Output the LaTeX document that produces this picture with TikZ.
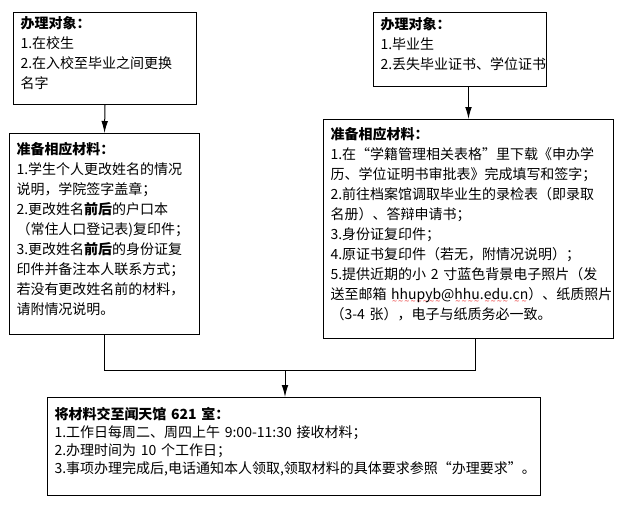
\documentclass[tikz,border=0pt]{standalone}
\usepackage{fontspec}
\setmainfont{Noto Sans CJK SC}
\newfontfamily\wavefont{DejaVu Sans}
\usepackage{xcolor}
\usepackage{tikz}
\usetikzlibrary{arrows.meta,positioning,calc}
\definecolor{flowblack}{RGB}{0,0,0}
\definecolor{spellred}{RGB}{230,30,30}
\newcommand{\spellwave}[1]{\setbox0=\hbox{#1}\leavevmode\rlap{\raisebox{-3.4pt}[0pt][0pt]{\textcolor{spellred}{\hbox to \wd0{\wavefont\fontsize{5}{5}\selectfont\xleaders\hbox{∼}\hfill}}}}\box0}
\newcommand{\boxpad}{\endgraf\vspace{7.5pt}}

\begin{document}
\begin{tikzpicture}[
x=0.75pt,y=-0.75pt,
box/.style={
draw=flowblack,
line width=0.75pt,
fill=white,
anchor=north west,
inner xsep=5.25pt,
inner ysep=0pt,
align=left,
font=\fontsize{10.5}{15}\selectfont,
execute at end node=\boxpad
},
arrow/.style={
-{Latex[length=9pt,width=5pt]},
line width=0.75pt,
draw=flowblack
},
line/.style={
line width=0.75pt,
draw=flowblack
}
]
\useasboundingbox (0,0) rectangle (626,507);

\node[box, text width=126.75pt, minimum height=69pt] (obj1) at (13,12)
{\textbf{办理对象：}\\
1.在校生\\
2.在入校至毕业之间更换\\
名字};

\node[box, text width=119.25pt, minimum height=55.5pt] (obj2) at (373,12)
{\textbf{办理对象：}\\
1.毕业生\\
2.丢失毕业证书、学位证书};

\node[box, text width=132pt, minimum height=150.75pt] (mat1) at (9,133)
{\textbf{准备相应材料：}\\
1.学生个人更改姓名的情况\\
说明，学院签字盖章；\\
2.更改姓名\textbf{前后}的户口本\\
（常住人口登记表)复印件；\\
3.更改姓名\textbf{前后}的身份证复\\
印件并备注本人联系方式；\\
若没有更改姓名前的材料，\\
请附情况说明。};

\node[box, text width=207pt, minimum height=164.25pt] (mat2) at (323,119)
{\textbf{准备相应材料：}\\
1.在“学籍管理相关表格”里下载《申办学\\
历、学位证明书审批表》完成填写和签字；\\
2.前往档案馆调取毕业生的录检表（即录取\\
名册）、答辩申请书；\\
3.身份证复印件；\\
4.原证书复印件（若无，附情况说明）；\\
5.提供近期的小 2 寸蓝色背景电子照片（发\\
\mbox{送至邮箱 \spellwave{hhupyb}@\spellwave{hhu}.\spellwave{edu}.\spellwave{cn}）、纸质照片}\\
（3-4 张），电子与纸质务必一致。};

\node[box, text width=359.25pt, minimum height=73.5pt,
font=\fontsize{10.5}{13.5}\selectfont] (submit) at (47,397)
{\textbf{将材料交至闻天馆 621 室：}\\
1.工作日每周二、周四上午 9:00-11:30 接收材料；\\
2.办理时间为 10 个工作日；\\
3.事项办理完成后,电话通知本人领取,领取材料的具体要求参照“办理要求”。};

% joins
\coordinate (join) at (285,370);

\draw[arrow] (obj1.south) -- (mat1.north);
\draw[arrow] (mat2.north |- obj2.south) -- (mat2.north);

\draw[line] (mat1.south) |- (join);
\draw[line] ([xshift=5.25pt]mat2.south) |- (join);
\draw[arrow] (join) -- (join |- submit.north);

\end{tikzpicture}
\end{document}
